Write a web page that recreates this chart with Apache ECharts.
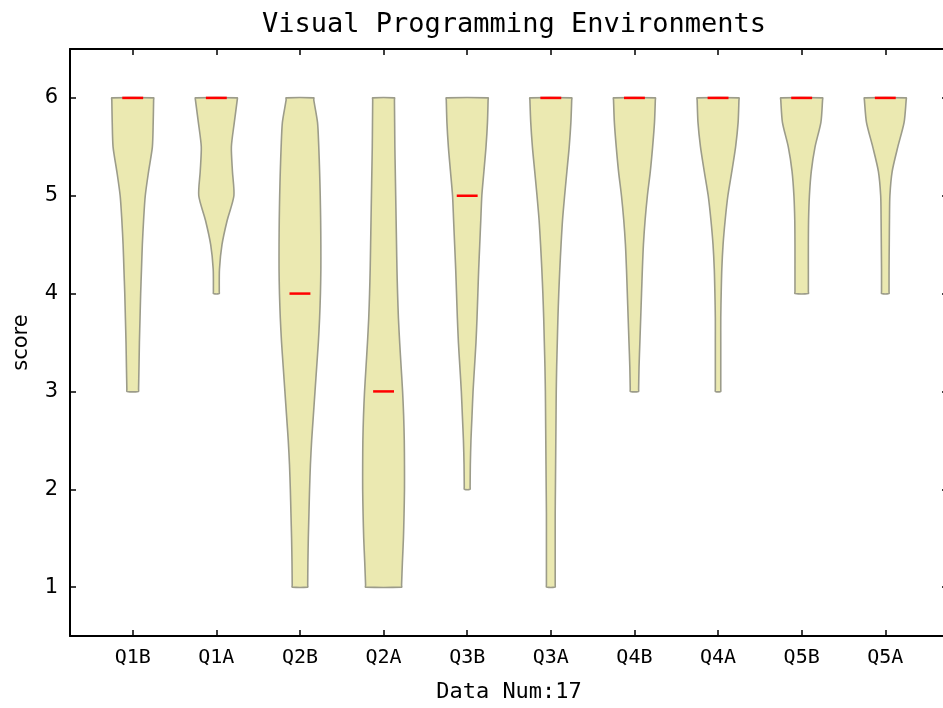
<!DOCTYPE html>
<html>
<head>
<meta charset="utf-8">
<script src="https://cdn.jsdelivr.net/npm/echarts@6/dist/echarts.min.js"></script>
<style>html,body{margin:0;padding:0;background:#fff}#chart{width:943px;height:708px}</style>
</head>
<body>
<div id="chart"></div>
<script>
// ---- data ----
const categories = ['Q1B', 'Q1A', 'Q2B', 'Q2A', 'Q3B', 'Q3A', 'Q4B', 'Q4A', 'Q5B', 'Q5A'];
const medians = [6, 6, 4, 3, 5, 6, 6, 6, 6, 6];
const yTicks = [1, 2, 3, 4, 5, 6];
// score levels at which the violin density (relative width, 0..1) was read
const scoreLevels = [6, 5.75, 5.5, 5.25, 5, 4.75, 4.5, 4.25, 4, 3.75, 3.5, 3.25, 3, 2.75, 2.5, 2.25, 2, 1.75, 1.5, 1.25, 1];
const densQ1B = [1.0, 0.98, 0.94, 0.76, 0.60, 0.52, 0.46, 0.42, 0.38, 0.35, 0.32, 0.30, 0.28];
const densQ1A = [1.0, 0.86, 0.72, 0.77, 0.84, 0.52, 0.27, 0.15, 0.14];
const densQ2B = [0.66, 0.84, 0.90, 0.94, 0.97, 0.99, 1.0, 1.0, 0.98, 0.94, 0.88, 0.80, 0.72, 0.64, 0.56, 0.50, 0.46, 0.43, 0.40, 0.38, 0.37];
const densQ2A = [0.52, 0.53, 0.54, 0.56, 0.58, 0.60, 0.62, 0.64, 0.67, 0.71, 0.77, 0.84, 0.91, 0.96, 0.99, 1.0, 1.0, 0.98, 0.95, 0.90, 0.86];
const densQ3B = [1.0, 0.97, 0.90, 0.80, 0.70, 0.65, 0.60, 0.55, 0.51, 0.47, 0.42, 0.35, 0.28, 0.23, 0.18, 0.15, 0.14];
const densQ3A = [1.0, 0.96, 0.88, 0.77, 0.66, 0.56, 0.49, 0.43, 0.38, 0.34, 0.31, 0.28, 0.26, 0.25, 0.24, 0.23, 0.22, 0.21, 0.21, 0.21, 0.21];
const densQ4B = [1.0, 0.96, 0.87, 0.76, 0.62, 0.51, 0.43, 0.38, 0.34, 0.30, 0.26, 0.22, 0.20];
const densQ4A = [1.0, 0.96, 0.84, 0.66, 0.47, 0.34, 0.24, 0.18, 0.15, 0.13, 0.13, 0.13, 0.13];
const densQ5B = [1.0, 0.92, 0.64, 0.46, 0.37, 0.33, 0.32, 0.32, 0.32];
const densQ5A = [1.0, 0.90, 0.60, 0.33, 0.22, 0.20, 0.19, 0.18, 0.18];
const densities = [densQ1B, densQ1A, densQ2B, densQ2A, densQ3B, densQ3A, densQ4B, densQ4A, densQ5B, densQ5A];

// ---- style constants ----
const VIOLIN_HALF = 0.25;   // half of max violin width (x units)
const MEDIAN_HALF = 0.125;
const positions = categories.map((c, i) => i + 1);

const chart = echarts.init(document.getElementById('chart'), null, { renderer: 'canvas' });

function renderViolin(params, api) {
  const i = params.dataIndex;
  const x = api.value(0);
  const med = api.value(1);
  const dens = densities[i];
  const n = dens.length;
  const right = [], left = [];
  for (let k = 0; k < n; k++) {
    const s = scoreLevels[k];
    right.push(api.coord([x + dens[k] * VIOLIN_HALF, s]));
    left.push(api.coord([x - dens[k] * VIOLIN_HALF, s]));
  }
  // helper points hugging the flat ends so smoothing keeps square corners
  const eps = 0.02;
  const topS = scoreLevels[0], botS = scoreLevels[n - 1];
  const rTop2 = api.coord([x + dens[0] * VIOLIN_HALF, topS - eps]);
  const lTop2 = api.coord([x - dens[0] * VIOLIN_HALF, topS - eps]);
  const rBot2 = api.coord([x + dens[n - 1] * VIOLIN_HALF, botS + eps]);
  const lBot2 = api.coord([x - dens[n - 1] * VIOLIN_HALF, botS + eps]);
  const pts = [];
  pts.push(right[0], rTop2);
  for (let k = 1; k < n - 1; k++) pts.push(right[k]);
  pts.push(rBot2, right[n - 1], left[n - 1], lBot2);
  for (let k = n - 2; k >= 1; k--) pts.push(left[k]);
  pts.push(lTop2, left[0]);

  const m0 = api.coord([x - MEDIAN_HALF, med]);
  const m1 = api.coord([x + MEDIAN_HALF, med]);
  return {
    type: 'group',
    children: [
      {
        type: 'polygon',
        shape: { points: pts, smooth: 0.25 },
        style: { fill: '#ebe9b1', stroke: '#9c9c8a', lineWidth: 1.6 }
      },
      {
        type: 'line',
        shape: { x1: m0[0], y1: m0[1], x2: m1[0], y2: m1[1] },
        style: { stroke: '#ff0000', lineWidth: 2.5 }
      }
    ]
  };
}

const axisLineStyle = { color: '#000', width: 2 };
const tickStyle = { color: '#000', width: 1.5 };

const option = {
  animation: false,
  backgroundColor: '#fff',
  title: {
    text: 'Visual Programming Environments',
    left: 509,
    textAlign: 'center',
    top: 6,
    textStyle: { fontFamily: 'DejaVu Sans Mono', fontSize: 27, fontWeight: 'normal', color: '#000' }
  },
  grid: { left: 70, right: -5, top: 49, bottom: 72, containLabel: false, outerBoundsMode: 'none' },
  xAxis: [
    {
      type: 'value', min: 0.25, max: 10.75, position: 'bottom',
      axisLine: { show: true, onZero: false, lineStyle: axisLineStyle },
      axisTick: { show: true, inside: true, length: 6, customValues: positions, lineStyle: tickStyle },
      axisLabel: {
        customValues: positions,
        formatter: v => categories[Math.round(v) - 1],
        fontFamily: 'DejaVu Sans Mono', fontSize: 20, color: '#000', margin: 12
      },
      splitLine: { show: false },
      name: 'Data Num:17', nameLocation: 'middle', nameGap: 45,
      nameTextStyle: { fontFamily: 'DejaVu Sans Mono', fontSize: 22, color: '#000' }
    },
    {
      type: 'value', min: 0.25, max: 10.75, position: 'top',
      axisLine: { show: true, onZero: false, lineStyle: axisLineStyle },
      axisTick: { show: true, inside: true, length: 6, customValues: positions, lineStyle: tickStyle },
      axisLabel: { show: false },
      splitLine: { show: false }
    }
  ],
  yAxis: [
    {
      type: 'value', min: 0.5, max: 6.5, position: 'left',
      axisLine: { show: true, onZero: false, lineStyle: axisLineStyle },
      axisTick: { show: true, inside: true, length: 6, customValues: yTicks, lineStyle: tickStyle },
      axisLabel: { customValues: yTicks, fontFamily: 'DejaVu Sans', fontSize: 21, color: '#000', margin: 12 },
      splitLine: { show: false },
      name: 'score', nameLocation: 'middle', nameGap: 38, nameRotate: 90,
      nameTextStyle: { fontFamily: 'DejaVu Sans', fontSize: 21, color: '#000' }
    },
    {
      type: 'value', min: 0.5, max: 6.5, position: 'right',
      axisLine: { show: true, onZero: false, lineStyle: axisLineStyle },
      axisTick: { show: true, inside: true, length: 6, customValues: yTicks, lineStyle: tickStyle },
      axisLabel: { show: false },
      splitLine: { show: false }
    }
  ],
  series: [
    {
      type: 'custom',
      xAxisIndex: 0, yAxisIndex: 0,
      renderItem: renderViolin,
      clip: false,
      data: categories.map((c, i) => [positions[i], medians[i]])
    }
  ]
};
chart.setOption(option);
</script>
</body>
</html>
